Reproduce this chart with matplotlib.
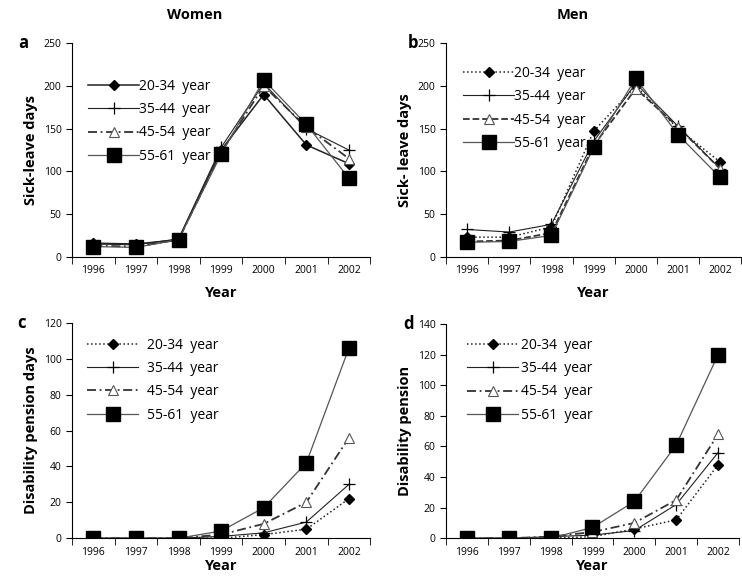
import matplotlib
matplotlib.use('Agg')
import matplotlib.pyplot as plt
import numpy as np

plt.rcParams.update({
    'font.family': ['Open Sans', 'DejaVu Sans'],
    'axes.linewidth': 0.8,
    'xtick.major.width': 0.8,
    'ytick.major.width': 0.8,
})

years = ['1996', '1997', '1998', '1999', '2000', '2001', '2002']
groups = ['20-34  year', '35-44  year', '45-54  year', '55-61  year']

# a: women, sick-leave days
a_2034 = [16, 15, 20, 125, 190, 131, 109]
a_3544 = [15, 14, 21, 128, 203, 150, 125]
a_4554 = [13, 12, 20, 122, 200, 152, 115]
a_5561 = [12, 11, 20, 120, 207, 155, 92]

# b: men, sick-leave days
b_2034 = [23, 23, 35, 147, 200, 150, 111]
b_3544 = [32, 29, 38, 135, 203, 153, 103]
b_4554 = [18, 19, 28, 130, 197, 152, 103]
b_5561 = [17, 18, 25, 128, 209, 143, 93]

# c: women, disability pension days
c_2034 = [0, 0, 0, 0, 2, 5, 22]
c_3544 = [0, 0, 0, 1, 3, 9, 30]
c_4554 = [0, 0, 0, 2, 8, 20, 56]
c_5561 = [0, 0, 0, 4, 17, 42, 106]

# d: men, disability pension
d_2034 = [0, 0, 0, 1, 6, 12, 48]
d_3544 = [0, 0, 1, 2, 5, 22, 56]
d_4554 = [0, 0, 1, 4, 10, 25, 68]
d_5561 = [0, 0, 0, 7, 24, 61, 120]


def panel(ax, series, styles, ymax, ystep, ylabel, letter, letter_x, leg_xy, textpad):
    x = np.arange(len(years))
    marks = [dict(marker='D', ms=5, mfc='black', mec='black'),
             dict(marker='+', ms=9, mew=0.9, mec='black'),
             dict(marker='^', ms=7, mfc='white', mec='#555555', mew=0.8),
             dict(marker='s', ms=10, mfc='black', mec='black')]
    colors = ['#222222', '#222222', '#333333', '#555555']
    lws = [1.1, 0.8, 1.3, 0.9]
    for s, ls, m, c, lw, lab in zip(series, styles, marks, colors, lws, groups):
        ax.plot(x, s, linestyle=ls, color=c, lw=lw, label=lab, **m)
    ax.set_xlim(-0.5, len(years) - 0.5)
    ax.set_ylim(0, ymax)
    ax.set_yticks(np.arange(0, ymax + 1, ystep))
    ax.set_xticks(x)
    ax.set_xticklabels(years)
    ax.set_xticks(np.arange(-0.5, len(years), 1.0), minor=True)
    ax.tick_params(axis='x', which='major', length=0, labelsize=7.5, pad=6)
    ax.tick_params(axis='x', which='minor', length=5, direction='out')
    ax.tick_params(axis='y', labelsize=7.5, length=4, direction='out')
    for sp in ['top', 'right']:
        ax.spines[sp].set_visible(False)
    ax.set_ylabel(ylabel, fontsize=10.5, fontweight='bold')
    ax.set_xlabel('Year', fontsize=10.5, fontweight='bold')
    ax.text(letter_x, 1.0, letter, transform=ax.transAxes, fontsize=12,
            fontweight='bold', va='center', ha='left')
    ax.legend(loc='upper left', bbox_to_anchor=leg_xy, frameon=False,
              fontsize=10, handlelength=3.7, handletextpad=textpad,
              labelspacing=0.6, borderaxespad=0)


fig = plt.figure(figsize=(7.42, 5.85), dpi=100)
ax_a = fig.add_axes([0.097, 0.561, 0.402, 0.365])
ax_b = fig.add_axes([0.601, 0.561, 0.398, 0.365])
ax_c = fig.add_axes([0.097, 0.080, 0.402, 0.368])
ax_d = fig.add_axes([0.601, 0.080, 0.395, 0.366])

panel(ax_a, [a_2034, a_3544, a_4554, a_5561], ['-', '-', (0, (5, 2, 1, 2)), '-'],
      250, 50, 'Sick-leave days', 'a', -0.18, (0.035, 0.86), 0.0)
panel(ax_b, [b_2034, b_3544, b_4554, b_5561], [':', '-', '--', '-'],
      250, 50, 'Sick- leave days', 'b', -0.13, (0.039, 0.92), 0.0)
panel(ax_c, [c_2034, c_3544, c_4554, c_5561], [':', '-', (0, (5, 2, 1, 2)), '-'],
      120, 20, 'Disability pension days', 'c', -0.185, (0.032, 0.958), 0.6)
panel(ax_d, [d_2034, d_3544, d_4554, d_5561], [':', '-', (0, (5, 2, 1, 2)), '-'],
      140, 20, 'Disability pension', 'd', -0.147, (0.053, 0.962), 0.15)

ax_a.xaxis.labelpad = 7
ax_b.xaxis.labelpad = 7
ax_c.xaxis.labelpad = 1
ax_d.xaxis.labelpad = 1

fig.text(195 / 742, 0.974, 'Women', fontsize=10.5, fontweight='bold', ha='center', va='center')
fig.text(573 / 742, 0.974, 'Men', fontsize=10.5, fontweight='bold', ha='center', va='center')

fig.savefig('out.png', dpi=100)
